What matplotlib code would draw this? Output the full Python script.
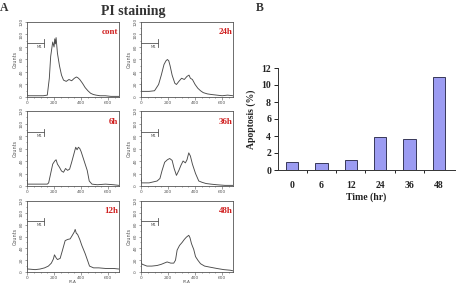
import matplotlib
matplotlib.use("Agg")
import matplotlib.pyplot as plt
from matplotlib.ticker import MultipleLocator

# ---------------- data ----------------
panel_labels = ["cont", "24h", "6h", "36h", "12h", "48h"]

cont_x = [0, 2, 10, 60, 120, 150, 165, 175, 190, 200, 205, 210, 215, 225, 240, 255, 270, 290, 310, 330, 350, 365, 375, 390, 410, 430, 450, 470, 490, 510, 540, 580, 620, 660, 680]
cont_y = [24, 3, 2, 2, 2, 3, 30, 65, 88, 80, 93, 85, 95, 70, 50, 35, 27, 25, 28, 26, 30, 32, 31, 28, 22, 15, 10, 6, 4, 3, 2, 2, 1, 1, 1]

h24_x = [0, 2, 10, 60, 100, 130, 150, 170, 185, 195, 205, 215, 230, 250, 262, 280, 300, 320, 340, 355, 365, 380, 400, 420, 440, 460, 490, 520, 560, 600, 640, 680]
h24_y = [24, 9, 9, 9, 10, 20, 35, 52, 58, 60, 58, 50, 35, 22, 20, 25, 30, 28, 33, 35, 30, 28, 20, 14, 10, 7, 5, 4, 3, 2, 3, 2]

h6_x = [0, 2, 10, 80, 150, 160, 175, 190, 205, 215, 225, 240, 255, 270, 285, 300, 315, 330, 345, 360, 370, 380, 390, 400, 415, 430, 445, 460, 480, 520, 580, 640, 680]
h6_y = [12, 3, 3, 3, 3, 5, 20, 35, 40, 42, 35, 30, 24, 22, 28, 25, 27, 38, 50, 62, 58, 62, 60, 55, 45, 35, 25, 8, 3, 2, 3, 2, 1]

h36_x = [0, 2, 10, 60, 119, 140, 156, 175, 195, 212, 230, 245, 262, 280, 295, 311, 328, 340, 353, 365, 380, 403, 427, 450, 480, 516, 560, 620, 680]
h36_y = [12, 5, 5, 5, 8, 12, 25, 38, 42, 44, 41, 28, 17, 25, 33, 40, 37, 42, 53, 48, 35, 20, 8, 6, 4, 3, 2, 1, 1]

h12_x = [0, 2, 10, 60, 96, 130, 158, 180, 195, 203, 215, 225, 245, 260, 282, 300, 319, 335, 350, 356, 365, 373, 390, 405, 430, 450, 462, 492, 530, 580, 640, 680]
h12_y = [20, 5, 5, 4, 5, 7, 10, 15, 22, 29, 24, 21, 23, 35, 53, 55, 56, 62, 68, 72, 65, 64, 55, 45, 31, 18, 10, 7, 7, 6, 6, 5]

h48_x = [0, 2, 10, 44, 80, 119, 150, 193, 220, 242, 255, 267, 285, 304, 320, 336, 353, 362, 373, 390, 403, 420, 440, 470, 514, 560, 612, 660, 680]
h48_y = [18, 15, 13, 10, 10, 11, 13, 17, 15, 15, 20, 37, 45, 50, 55, 59, 62, 58, 48, 38, 26, 20, 14, 10, 8, 6, 4, 3, 2]

hist_x = [cont_x, h24_x, h6_x, h36_x, h12_x, h48_x]
hist_y = [cont_y, h24_y, h6_y, h36_y, h12_y, h48_y]

times = ["0", "6", "12", "24", "36", "48"]
apoptosis = [1.0, 0.85, 1.2, 3.85, 3.65, 11.0]

# ---------------- figure ----------------
W, H = 457, 285
fig = plt.figure(figsize=(W / 100, H / 100), dpi=100)
serif = "Liberation Serif"

def rect(l, t, r, b):
    return [l / W, 1 - b / H, (r - l) / W, (b - t) / H]

cols = [(27, 119), (141, 233)]
rows = [(22, 97), (111, 186), (201, 272)]

for i, lab in enumerate(panel_labels):
    r, c = divmod(i, 2)
    ax = fig.add_axes(rect(cols[c][0], rows[r][0], cols[c][1], rows[r][1]))
    ax.plot(hist_x[i], hist_y[i], color="#4a4a4a", lw=0.65)
    ax.set_xlim(0, 680)
    ax.set_ylim(0, 120)
    ax.xaxis.set_major_locator(MultipleLocator(200))
    ax.xaxis.set_minor_locator(MultipleLocator(50))
    ax.yaxis.set_major_locator(MultipleLocator(20))
    ax.yaxis.set_minor_locator(MultipleLocator(10))
    ax.tick_params(which="major", length=1.8, width=0.4, labelsize=3.2, pad=0.8, colors="#555555")
    ax.tick_params(which="minor", length=1, width=0.4, colors="#555555")
    for lbl in ax.get_yticklabels():
        lbl.set_rotation(90)
        lbl.set_va("center")
    for s in ax.spines.values():
        s.set_linewidth(0.6)
        s.set_color("#555555")
    ax.set_ylabel("Counts", fontsize=3.5, labelpad=1, color="#555555")
    if r == 2:
        ax.set_xlabel("PI-A", fontsize=3.0, labelpad=0.0, color="#555555")
    # M1 gate marker
    ax.plot([0, 128], [86, 86], color="#555555", lw=0.6)
    ax.plot([128, 128], [80, 92], color="#555555", lw=0.6)
    ax.text(90, 80, "M1", fontsize=2.8, ha="center", va="center", color="#555555")
    ax.text(0.995, 0.86, lab, transform=ax.transAxes, ha="right", va="center",
            fontsize=6.5, fontweight="bold", color="#d02020", family=serif)

fig.text(133 / W, 1 - 12 / H, "PI staining", ha="center", va="center",
         fontsize=10, fontweight="bold", family=serif, color="#333333")
fig.text(0 / W, 1 - 8 / H, "A", ha="left", va="center",
         fontsize=8.5, fontweight="bold", family=serif, color="#333333")
fig.text(260 / W, 1 - 8 / H, "B", ha="center", va="center",
         fontsize=8.5, fontweight="bold", family=serif, color="#333333")

# ---------------- bar chart ----------------
bx = fig.add_axes(rect(278, 68, 455, 170))
pos = list(range(len(times)))
bx.bar(pos, apoptosis, width=0.42, color="#9c9cf2", edgecolor="#202040", linewidth=0.6)
bx.set_xlim(-0.48, 5.55)
bx.set_ylim(0, 12)
bx.set_yticks([0, 2, 4, 6, 8, 10, 12])
bx.set_xticks(pos)
bx.set_xticklabels(times)
bx.set_xticks([p + 0.5 for p in pos[:-1]], minor=True)
bx.tick_params(axis="x", which="major", length=0, pad=8)
bx.tick_params(axis="x", which="minor", length=2.5, width=0.6, direction="out")
bx.tick_params(axis="y", length=3, width=0.6, direction="out", pad=2)
for lbl in bx.get_xticklabels() + bx.get_yticklabels():
    lbl.set_fontfamily(serif)
    lbl.set_fontweight("bold")
    lbl.set_fontsize(7)
    lbl.set_color("#222222")
for s in ["top", "right"]:
    bx.spines[s].set_visible(False)
for s in ["left", "bottom"]:
    bx.spines[s].set_linewidth(0.7)
    bx.spines[s].set_color("#333333")
bx.set_ylabel("Apoptosis (%)", fontsize=7, fontweight="bold", family=serif,
              labelpad=4, color="#222222")
bx.set_xlabel("Time (hr)", fontsize=7, fontweight="bold", family=serif,
              labelpad=2, color="#222222")

fig.savefig("out.png", dpi=100)
